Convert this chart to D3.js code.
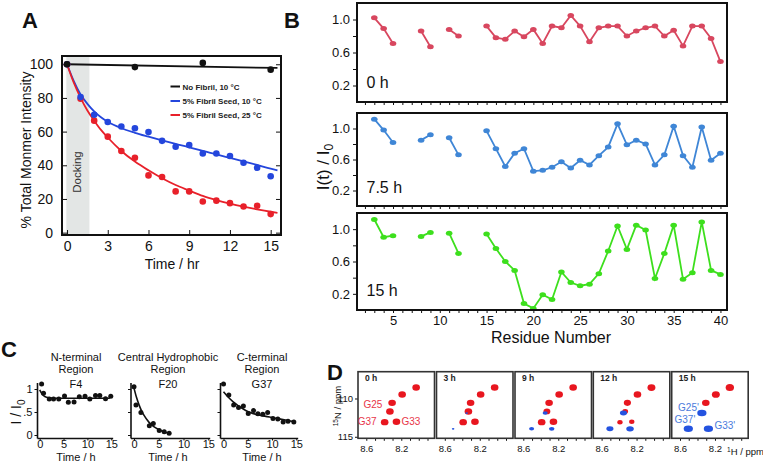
<!DOCTYPE html>
<html><head><meta charset="utf-8">
<script src="https://cdn.jsdelivr.net/npm/d3@7"></script>
<style>body{margin:0;background:#fff}svg{display:block}</style>
</head><body><svg id="c" width="763" height="462"></svg>
<script>
// ---------------- DATA ----------------
// Panel A
const timeA = [0,1,2,3,4,5,6,7,8,9,10,11,12,13,14,15];
const seed10 = [100,80.5,70,65.7,63,62,59.7,54.5,51,52,47,47,45.5,41.5,38.5,33.5];
const seed25 = [100,79.5,66.5,57,48.5,44.5,34,33,24.5,24.5,18.5,19,17.5,15.5,16,11];
const noFibT = [0,5,10,15];
const noFib = [100,98.3,100.8,96.8];
const fitT = [0,0.5,1,1.5,2,2.5,3,4,5,6,7,8,9,10,11,12,13,14,15,15.5];
const fit10 = [100,90,82,76.5,72,68.5,65.8,62,59.3,57,54.8,52.7,50.7,48.5,46.5,44.4,42.3,40.2,38,37];
const fit25 = [100,89,80,72.5,66.5,61,56.5,48.5,42.2,37,32.3,28.3,25,21.8,19.3,17.2,15.4,13.8,12.4,11.8];
const fitNoT = [0,15.5];
const fitNo = [100,97.8];
const legendA = ["No Fibril, 10 °C","5% Fibril Seed, 10 °C","5% Fibril Seed, 25 °C"];
const yTicksA = [0,20,40,60,80,100];
const xTicksA = [0,3,6,9,12,15];

// Panel B
const residues = [3,4,5,6,7,8,9,10,11,12,13,14,15,16,17,18,19,20,21,22,23,24,25,26,27,28,29,30,31,32,33,34,35,36,37,38,39,40];
const int0h  = [1.02,0.89,0.71,null,null,0.86,0.67,null,0.88,0.80,null,null,0.92,0.78,0.76,0.86,0.79,0.88,0.71,0.92,0.90,1.05,0.92,0.73,0.90,0.92,0.92,0.80,0.86,0.90,0.92,0.80,0.87,0.68,0.92,0.92,0.77,0.49];
const int75h = [1.12,0.98,0.82,null,null,0.85,0.92,null,0.88,0.66,null,null,0.97,0.74,0.51,0.68,0.74,0.45,0.46,0.50,0.57,0.49,0.59,0.53,0.65,0.76,1.06,0.79,0.85,0.80,0.53,0.66,1.03,0.65,0.50,1.02,0.59,0.68];
const int15h = [1.12,0.90,0.92,null,null,0.91,0.96,null,0.95,0.70,null,null,0.94,0.76,0.60,0.49,0.08,0.02,0.19,0.13,0.47,0.34,0.30,0.32,0.45,0.73,1.04,0.75,1.05,0.99,0.39,0.70,1.05,0.38,0.46,1.09,0.49,0.44];
const timeLabelsB = ["0 h","7.5 h","15 h"];
const yTicksB = [0.2,0.4,0.6,0.8,1.0];
const xTicksB = [2,3,4,5,6,7,8,9,10,11,12,13,14,15,16,17,18,19,20,21,22,23,24,25,26,27,28,29,30,31,32,33,34,35,36,37,38,39,40];
const xLabelsB = [5,10,15,20,25,30,35,40];

// Panel C
const cTitles = [["N-terminal","Region","F4"],["Central Hydrophobic","Region","F20"],["C-terminal","Region","G37"]];
const f4T = [0.4,0.8,2.0,2.9,4.0,5.2,6.0,7.2,8.3,9.5,10.5,11.7,12.6,13.8,14.9];
const f4V = [1.11,0.91,0.78,0.78,0.78,0.85,0.71,0.72,0.83,0.84,0.78,0.86,0.86,0.79,0.84];
const f4FitT = [0,0.5,1,1.5,2,3,4,6,8,10,12,14.7];
const f4FitV = [0.98,0.89,0.84,0.82,0.81,0.80,0.80,0.80,0.80,0.80,0.80,0.80];
const f20T = [0,0.4,1.4,3.1,3.9,5.1,6.1,7.1];
const f20V = [1.05,0.65,0.49,0.20,0.25,0.10,0.07,0.04];
const f20FitT = [0,0.5,1,1.5,2,3,4,5,6,7,7.4];
const f20FitV = [1.02,0.82,0.66,0.53,0.43,0.28,0.18,0.12,0.07,0.04,0.03];
const g37T = [0,1.1,2.1,3.1,4.1,5.1,6.2,7.1,8.1,9.1,10.2,11.2,12.3,13.3,14.5];
const g37V = [1.11,0.87,0.65,0.60,0.63,0.47,0.53,0.46,0.45,0.49,0.36,0.35,0.28,0.30,0.28];
const g37FitT = [0,1,2,3,4,5,6,7,8,9,10,11,12,13,14.5];
const g37FitV = [0.94,0.82,0.72,0.64,0.57,0.51,0.47,0.44,0.42,0.40,0.38,0.36,0.34,0.32,0.29];
const xTicksC = [0,5,10,15];
const yTicksC = [0,0.5,1];
const yLabelsC = ["0",".5","1"];

// Panel D
const dTimes = ["0 h","3 h","9 h","12 h","15 h"];
const redH = [8.03,8.19,8.305,8.33,8.39,8.255];
const redN = [108.57,109.48,110.57,111.69,113.09,113.03];
const redSize = [[1,1,1,1,1,1],[1,1,1,1,1,1],[1,1,1,0.9,1,1],[1.05,1,0.95,0.75,0.7,0.7],[1.1,1.05,1,0,0,0]];
const blueH = [8.35,8.275,8.505];
const blueN = [111.9,113.96,113.96];
const blueSize = [[0,0,0],[0.3,0,0.3],[0.6,0.65,0.6],[0.85,0.9,0.85],[1.1,1.1,1.1]];
const redLabels = ["G25","G37","G33"];
const blueLabels = ["G25'","G37'","G33'"];
const xTicksD = [8.6,8.5,8.4,8.3,8.2,8.1,8.0,7.9];
const xLabelsD = [8.6,8.2];
const yTicksD = [110,115];

// ---------------- DRAW ----------------
const FONT = '"Liberation Sans", Arial, Helvetica, sans-serif';
const svg = d3.select("#c").attr("font-family", FONT);
svg.append("rect").attr("width",763).attr("height",462).attr("fill","#fff");

function styleAxis(g, size){
  g.attr("font-family", FONT).attr("font-size", size);
  g.selectAll("text").attr("fill","#111");
  g.selectAll(".tick line").attr("stroke","#111");
  g.select(".domain").remove();
}
function label(txt,x,y,size,opts={}){
  const t = svg.append("text").attr("x",x).attr("y",y).attr("font-size",size).attr("fill",opts.fill||"#111").text(txt);
  if(opts.anchor) t.attr("text-anchor",opts.anchor);
  if(opts.weight) t.attr("font-weight",opts.weight);
  return t;
}

// ===== Panel A =====
const xA = d3.scaleLinear().domain([-0.37,15.76]).range([62,281]);
const yA = d3.scaleLinear().domain([-1.4,104.9]).range([235,56]);
const gA = svg.append("g");
gA.append("rect").attr("x",xA(-0.05)).attr("y",yA(104.9)).attr("width",xA(1.65)-xA(-0.05))
  .attr("height",yA(-1.4)-yA(104.9)).attr("fill","#e3e6e5");
gA.append("text").attr("transform",`translate(${xA(0.75)+4},${yA(36)}) rotate(-90)`)
  .attr("text-anchor","middle").attr("font-size",11.5).attr("fill","#333").text("Docking");
gA.append("g").attr("transform","translate(62,0)").call(d3.axisLeft(yA).tickValues(yTicksA).tickSize(-5).tickPadding(9)).call(g=>styleAxis(g,14));
gA.append("g").attr("transform","translate(281,0)").call(d3.axisRight(yA).tickValues(yTicksA).tickSize(-5).tickFormat("")).call(g=>styleAxis(g,14));
gA.append("g").attr("transform","translate(0,235)").call(d3.axisBottom(xA).tickValues(xTicksA).tickSize(-5).tickPadding(6)).call(g=>styleAxis(g,14));
const lineA = d3.line().x(d=>xA(d[0])).y(d=>yA(d[1])).curve(d3.curveMonotoneX);
const seriesA = [
  {t:noFibT,v:noFib,ft:fitNoT,fv:fitNo,c:"#111"},
  {t:timeA,v:seed10,ft:fitT,fv:fit10,c:"#2446dc"},
  {t:timeA,v:seed25,ft:fitT,fv:fit25,c:"#e8202a"}
];
seriesA.forEach(s=>{
  gA.append("path").attr("d",lineA(s.ft.map((t,i)=>[t,s.fv[i]]))).attr("fill","none").attr("stroke",s.c).attr("stroke-width",1.8);
});
seriesA.slice().reverse().forEach(s=>{
  gA.selectAll(null).data(s.t.map((t,i)=>[t,s.v[i]])).enter().append("circle")
    .attr("cx",d=>xA(d[0])).attr("cy",d=>yA(d[1])).attr("r",3.3).attr("fill",s.c);
});
gA.append("rect").attr("x",62).attr("y",56).attr("width",219).attr("height",179).attr("fill","none").attr("stroke","#111").attr("stroke-width",2);
const legY = [86.5,101,115];
legendA.forEach((t,i)=>{
  gA.append("line").attr("x1",170.5).attr("x2",180).attr("y1",legY[i]).attr("y2",legY[i]).attr("stroke",seriesA[i].c).attr("stroke-width",2);
  gA.append("text").attr("x",182.5).attr("y",legY[i]+3).attr("font-size",8).attr("font-weight","bold").attr("fill","#222").text(t);
});
svg.append("text").attr("transform","translate(31,150) rotate(-90)").attr("text-anchor","middle").attr("font-size",14).attr("fill","#111").text("% Total Monmer Intensity");
label("Time / hr",172,269,14,{anchor:"middle"});
label("A",22,28,22,{weight:"bold"});

// ===== Panel B =====
const xB = d3.scaleLinear().domain([1.15,40.7]).range([357,727]);
const framesB = [[3,102],[113,206],[213,310]];
const seriesB = [int0h,int75h,int15h];
const colorsB = ["#d8475f","#3f86d6","#3ddf1d"];
const baseB = [88,193,296];
framesB.forEach((f,k)=>{
  const yB = d3.scaleLinear().domain([0,1.2]).range([f[1],f[0]]);
  const g = svg.append("g");
  g.append("g").attr("transform","translate(357,0)")
    .call(d3.axisLeft(yB).tickValues(yTicksB).tickSize(4).tickPadding(3).tickFormat(d=>[0.2,0.6,1.0].includes(+d.toFixed(1))?d3.format(".1f")(d):""))
    .call(gg=>styleAxis(gg,13));
  g.append("g").attr("transform",`translate(0,${f[1]})`)
    .call(d3.axisBottom(xB).tickValues(xTicksB).tickSize(3).tickPadding(3).tickFormat(d=>(k===2&&xLabelsB.includes(d))?d:""))
    .call(gg=>styleAxis(gg,13));
  const pts = residues.map((r,i)=>({r,v:seriesB[k][i]}));
  const ln = d3.line().defined(d=>d.v!==null).x(d=>xB(d.r)).y(d=>yB(d.v));
  g.append("path").attr("d",ln(pts)).attr("fill","none").attr("stroke",colorsB[k]).attr("stroke-width",1.8);
  g.selectAll(null).data(pts.filter(d=>d.v!==null)).enter().append("ellipse")
    .attr("cx",d=>xB(d.r)).attr("cy",d=>yB(d.v)).attr("rx",3.3).attr("ry",2.5).attr("fill",colorsB[k]);
  g.append("rect").attr("x",357).attr("y",f[0]).attr("width",370).attr("height",f[1]-f[0]).attr("fill","none").attr("stroke","#111").attr("stroke-width",2);
  label(timeLabelsB[k],366.5,baseB[k],16);
});
const yt = svg.append("text").attr("transform","translate(329,167) rotate(-90)").attr("text-anchor","middle").attr("font-size",17).attr("fill","#111");
yt.append("tspan").text("I(t) / I");
yt.append("tspan").attr("font-size",12).attr("dy",4).text("0");
label("Residue Number",551,343,16,{anchor:"middle"});
label("B",284,28,22,{weight:"bold"});

// ===== Panel C =====
const yC = d3.scaleLinear().domain([0,1]).range([435,389]);
const cPlots = [
  {ax:37.5,x0:39.7,k:4.77,T:f4T,V:f4V,FT:f4FitT,FV:f4FitV,labels:true,cx:76},
  {ax:131,x0:134,k:4.95,T:f20T,V:f20V,FT:f20FitT,FV:f20FitV,labels:false,cx:168},
  {ax:220.5,x0:223.5,k:4.85,T:g37T,V:g37V,FT:g37FitT,FV:g37FitV,labels:false,cx:262}
];
cPlots.forEach((p,i)=>{
  const xC = d3.scaleLinear().domain([0,15]).range([p.x0,p.x0+15*p.k]);
  const g = svg.append("g");
  g.append("line").attr("x1",p.ax).attr("x2",p.ax).attr("y1",yC(1.13)).attr("y2",438.5).attr("stroke","#111").attr("stroke-width",1.6);
  g.append("line").attr("x1",p.ax).attr("x2",xC(15.4)).attr("y1",438.5).attr("y2",438.5).attr("stroke","#111").attr("stroke-width",1.6);
  g.append("g").attr("transform",`translate(${p.ax},0)`)
    .call(d3.axisLeft(yC).tickValues(yTicksC).tickSize(3).tickPadding(2).tickFormat((d,j)=>p.labels?yLabelsC[j]:""))
    .call(gg=>styleAxis(gg,11));
  g.append("g").attr("transform","translate(0,438.5)")
    .call(d3.axisBottom(xC).tickValues(xTicksC).tickSize(2).tickPadding(0))
    .call(gg=>styleAxis(gg,11));
  const ln = d3.line().x((d)=>xC(d[0])).y(d=>yC(d[1])).curve(d3.curveMonotoneX);
  g.append("path").attr("d",ln(p.FT.map((t,j)=>[t,p.FV[j]]))).attr("fill","none").attr("stroke","#111").attr("stroke-width",1.6);
  g.selectAll(null).data(p.T.map((t,j)=>[t,p.V[j]])).enter().append("circle")
    .attr("cx",d=>xC(d[0])).attr("cy",d=>yC(d[1])).attr("r",2.5).attr("fill","#111");
  cTitles[i].forEach((t,j)=>label(t,p.cx,[360.5,372.5,388][j],11,{anchor:"middle"}));
  label("Time / h",p.cx,461,11,{anchor:"middle"});
});
const yc = svg.append("text").attr("transform","translate(21,412) rotate(-90)").attr("text-anchor","middle").attr("font-size",14).attr("fill","#111");
yc.append("tspan").text("I / I");
yc.append("tspan").attr("font-size",10).attr("dy",4).text("0");
label("C",1,357,22,{weight:"bold"});

// ===== Panel D =====
const dX0 = [358,436.5,515,593.3,671.7];
const yD = d3.scaleLinear().domain([106.5,115.2]).range([371.7,438.3]);
dTimes.forEach((tl,i)=>{
  const x0 = dX0[i];
  const xD = d3.scaleLinear().domain([8.695,7.82]).range([x0,x0+76.5]);
  const g = svg.append("g");
  g.append("g").attr("transform","translate(0,438.3)")
    .call(d3.axisBottom(xD).tickValues(xTicksD).tickSize(2.5).tickPadding(4).tickFormat(d=>xLabelsD.includes(d)?d3.format(".1f")(d):""))
    .call(gg=>styleAxis(gg,9.5));
  if(i===0){
    g.append("g").attr("transform",`translate(${x0},0)`)
      .call(d3.axisLeft(yD).tickValues(yTicksD).tickSize(3).tickPadding(2))
      .call(gg=>styleAxis(gg,9.5));
  }
  redH.forEach((h,j)=>{
    const s = redSize[i][j];
    if(s>0) g.append("ellipse").attr("cx",xD(h)).attr("cy",yD(redN[j])).attr("rx",3.8*s).attr("ry",3.2*s).attr("fill","#e8161f");
  });
  blueH.forEach((h,j)=>{
    const s = blueSize[i][j];
    if(s>0) g.append("ellipse").attr("cx",xD(h)).attr("cy",yD(blueN[j])).attr("rx",4.2*s).attr("ry",2.9*s).attr("fill","#2453e0");
  });
  g.append("rect").attr("x",x0).attr("y",371.7).attr("width",76.5).attr("height",66.6).attr("fill","none").attr("stroke","#333").attr("stroke-width",1.6);
  g.append("text").attr("x",x0+7).attr("y",381).attr("font-size",8.5).attr("font-weight","bold").attr("fill","#222").text(tl);
  if(i===0){
    const xr = xD;
    g.append("text").attr("x",xr(8.33)-7.5).attr("y",yD(111.2)).attr("text-anchor","end").attr("font-size",10).attr("fill","#e8364a").text(redLabels[0]);
    g.append("text").attr("x",xr(8.39)-8).attr("y",yD(113.4)).attr("text-anchor","end").attr("font-size",10).attr("fill","#e8364a").text(redLabels[1]);
    g.append("text").attr("x",xr(8.255)+5).attr("y",yD(113.4)).attr("font-size",10).attr("fill","#e8364a").text(redLabels[2]);
  }
  if(i===4){
    g.append("text").attr("x",xD(8.35)-3).attr("y",yD(111.6)).attr("text-anchor","end").attr("font-size",10).attr("fill","#4a7bdc").text(blueLabels[0]);
    g.append("text").attr("x",xD(8.505)+7).attr("y",yD(113.2)).attr("text-anchor","end").attr("font-size",10).attr("fill","#4a7bdc").text(blueLabels[1]);
    g.append("text").attr("x",xD(8.275)+6).attr("y",yD(113.95)).attr("font-size",10).attr("fill","#4a7bdc").text(blueLabels[2]);
  }
});
const yd = svg.append("text").attr("transform","translate(341,406) rotate(-90)").attr("text-anchor","middle").attr("font-size",9.5).attr("fill","#111");
yd.append("tspan").attr("font-size",6.5).attr("dy",-3).text("15");
yd.append("tspan").attr("dy",3).text("N / ppm");
const xd = svg.append("text").attr("x",727).attr("y",455).attr("font-size",9.5).attr("fill","#111");
xd.append("tspan").attr("font-size",6.5).attr("dy",-3).text("1");
xd.append("tspan").attr("dy",3).text("H / ppm");
label("D",327,380,22,{weight:"bold"});
</script></body></html>
